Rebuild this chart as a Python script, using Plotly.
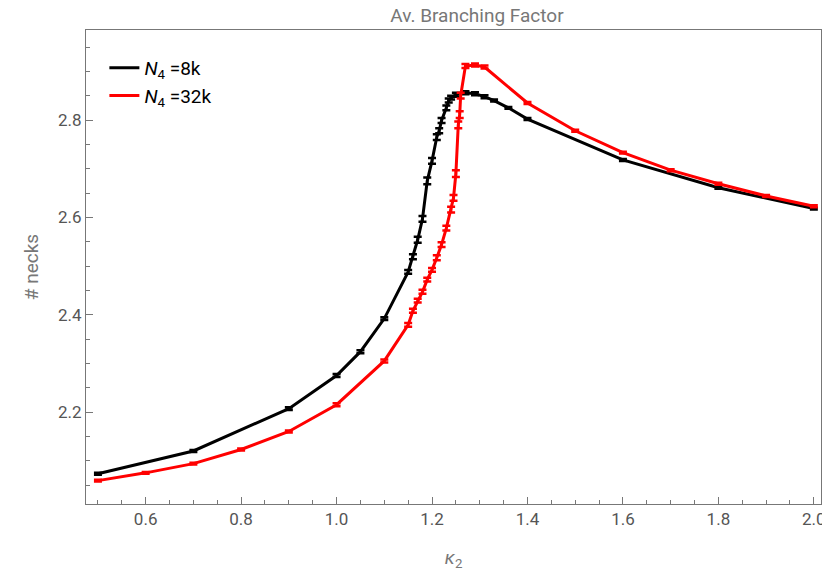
import plotly.graph_objects as go

# N4 = 8k
k_8k = [0.5, 0.7, 0.9, 1.0, 1.05, 1.1, 1.15, 1.16, 1.17, 1.18, 1.19, 1.2, 1.21, 1.215,
        1.22, 1.23, 1.235, 1.24, 1.25, 1.27, 1.29, 1.31, 1.33, 1.36, 1.4, 1.6, 1.8, 2.0]
y_8k = [2.073, 2.120, 2.207, 2.275, 2.324, 2.392, 2.488, 2.519, 2.554, 2.597, 2.675, 2.716,
        2.765, 2.778, 2.799, 2.825, 2.840, 2.846, 2.852, 2.856, 2.854, 2.848, 2.840, 2.825,
        2.802, 2.718, 2.661, 2.618]
e_8k = [0.002, 0.002, 0.003, 0.003, 0.003, 0.003, 0.004, 0.005, 0.006, 0.006, 0.007, 0.006,
        0.006, 0.005, 0.005, 0.005, 0.004, 0.004, 0.004, 0.003, 0.003, 0.003, 0.002, 0.002,
        0.002, 0.002, 0.002, 0.002]

# N4 = 32k
k_32k = [0.5, 0.6, 0.7, 0.8, 0.9, 1.0, 1.1, 1.15, 1.16, 1.17, 1.18, 1.19, 1.2, 1.21, 1.22,
         1.23, 1.24, 1.245, 1.25, 1.255, 1.258, 1.26, 1.27, 1.29, 1.31, 1.4, 1.5, 1.6, 1.7,
         1.8, 1.9, 2.0]
y_32k = [2.059, 2.075, 2.094, 2.123, 2.160, 2.215, 2.305, 2.379, 2.408, 2.429, 2.447, 2.472,
         2.492, 2.517, 2.544, 2.578, 2.616, 2.640, 2.690, 2.790, 2.811, 2.850, 2.911, 2.913,
         2.909, 2.835, 2.778, 2.733, 2.697, 2.669, 2.644, 2.623]
e_32k = [0.002, 0.002, 0.002, 0.002, 0.002, 0.003, 0.003, 0.004, 0.004, 0.004, 0.004, 0.004,
         0.004, 0.005, 0.005, 0.005, 0.006, 0.006, 0.007, 0.007, 0.007, 0.006, 0.004, 0.003,
         0.003, 0.002, 0.002, 0.002, 0.002, 0.002, 0.002, 0.002]

fig = go.Figure()
for k, y, e, col, name in [(k_8k, y_8k, e_8k, "black", "<i>N</i><sub>4</sub> =8k"),
                           (k_32k, y_32k, e_32k, "red", "<i>N</i><sub>4</sub> =32k")]:
    fig.add_trace(go.Scatter(x=k, y=y, mode="lines", name=name,
                             line=dict(color=col, width=3),
                             error_y=dict(type="data", array=e, color=col,
                                          thickness=2.5, width=4)))

gray = "#777777"
axis = dict(showline=True, linecolor=gray, linewidth=1, mirror=True, showgrid=False,
            zeroline=False, ticks="inside", tickcolor=gray, ticklen=7,
            minor=dict(ticks="inside", ticklen=4, tickcolor=gray),
            tickfont=dict(size=17, color="#555555"), title_font=dict(size=19, color=gray))
fig.update_layout(
    width=830, height=577, plot_bgcolor="white", paper_bgcolor="white",
    font=dict(family="Roboto"),
    margin=dict(l=78, r=12, t=22, b=81),
    title=dict(text="Av. Branching Factor", x=0.565, xanchor="center", y=0.998,
               yanchor="top", font=dict(size=19, color=gray)),
    xaxis=dict(axis, range=[0.475, 2.015], dtick=0.2, tickformat=".1f",
               minor_dtick=0.05, title=dict(text="<i>κ</i><sub>2</sub>", standoff=22)),
    yaxis=dict(axis, range=[2.011, 2.985], dtick=0.2, tickformat=".1f",
               minor_dtick=0.05, title=dict(text="# necks", standoff=14)),
    legend=dict(x=0.025, y=0.96, font=dict(size=19, color="black"),
                bgcolor="rgba(0,0,0,0)"),
)
fig.write_html("out.html")
